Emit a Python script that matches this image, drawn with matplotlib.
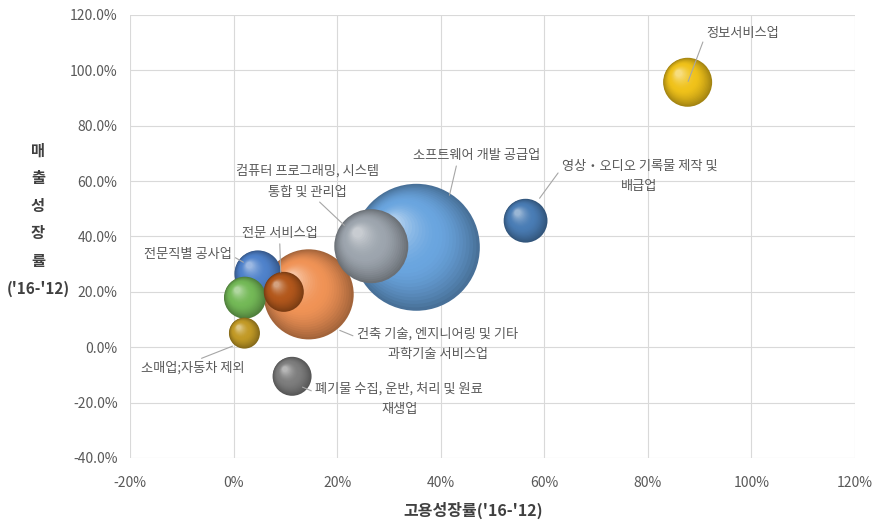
import matplotlib
matplotlib.use('Agg')
import matplotlib.pyplot as plt
import matplotlib.colors as mcolors
from matplotlib.transforms import offset_copy
from matplotlib.ticker import FuncFormatter, MultipleLocator
import numpy as np

plt.rcParams['font.family'] = ['Noto Sans CJK KR', 'DejaVu Sans']

# 업종별 고용성장률, 매출성장률 ('16-'12), 버블 크기
industries = ['정보서비스업', '영상・오디오 기록물 제작 및\n배급업', '소프트웨어 개발 공급업',
              '컴퓨터 프로그래밍, 시스템\n통합 및 관리업', '전문 서비스업', '전문직별 공사업',
              '소매업;자동차 제외', '건축 기술, 엔지니어링 및 기타\n과학기술 서비스업',
              '폐기물 수집, 운반, 처리 및 원료\n재생업', '기타']
emp_growth = [87.7, 56.4, 35.3, 26.6, 9.7, 4.7, 2.1, 14.5, 11.3, 2.2]
sales_growth = [95.7, 45.7, 36.1, 36.5, 20.0, 26.5, 5.1, 19.1, -10.5, 17.9]
bubble_size = [600, 480, 4030, 1370, 400, 550, 240, 2030, 380, 440]
colors = ['#F0C21A', '#4A7DB5', '#6AA5DF', '#9DA5AE', '#B3581C', '#4F82CB',
          '#C29A26', '#F09356', '#7E7E7E', '#74B957']

# 라벨 위치 (텍스트 중심, 지시선 끝점, 지시선 시작 위치)
label_pos = [(98.3, 113.4), (78.4, 61.7), (46.9, 69.3), (14.2, 59.9), (8.9, 41.2),
             (-8.9, 33.6), (-7.8, -7.6), (39.4, 1.1), (32.0, -18.8), None]
leader_end = [(87.8, 96.0), (59.1, 53.8), (41.7, 54.9), (21.4, 44.0), (9.1, 27.1),
              (1.9, 30.7), (-0.2, 0.4), (20.5, 6.1), (13.3, -14.4), None]
leader_rel = [(0, 0.5), (0, 0.75), (0.35, 0), (0.56, 0), (0.5, 0),
              (1, 0.4), (0.5, 1), (0, 0.7), (0, 0.7), None]

fig = plt.figure(figsize=(8.75, 5.28), dpi=100)
ax = fig.add_axes([0.1486, 0.1326, 0.8284, 0.839])

SCALE = (2 * 0.72) ** 2


def mix(c, other, t):
    a = np.array(mcolors.to_rgb(c))
    b = np.array(mcolors.to_rgb(other))
    return tuple(a * (1 - t) + b * t)


def sphere(x, y, size, color, n=24):
    s0 = size * SCALE
    r0 = np.sqrt(s0) / 2
    for i in range(n):
        t = i / n
        r = r0 * (1 - 0.9 * t)
        off = 0.38 * r0 * t
        if t < 0.5:
            col = mix(color, 'black', 0.32 * (1 - t / 0.5) ** 1.5)
        else:
            col = mix(color, 'white', 0.5 * ((t - 0.5) / 0.5) ** 1.6)
        tr = offset_copy(ax.transData, fig=fig, x=-off, y=off, units='points')
        ax.scatter([x], [y], s=(2 * r) ** 2, color=col, edgecolors='none',
                   transform=tr, zorder=3)


order = np.argsort(bubble_size)[::-1]
for i in order:
    sphere(emp_growth[i], sales_growth[i], bubble_size[i], colors[i])

for i, name in enumerate(industries):
    if label_pos[i] is None:
        continue
    ax.annotate(name, xy=leader_end[i], xytext=label_pos[i], ha='center', va='center',
                fontsize=9.5, color='#595959', linespacing=1.75, zorder=5,
                arrowprops=dict(arrowstyle='-', color='#A6A6A6', lw=0.8,
                                relpos=leader_rel[i], shrinkA=1, shrinkB=0))

ax.set_xlim(-20, 120)
ax.set_ylim(-40, 120)
ax.xaxis.set_major_locator(MultipleLocator(20))
ax.yaxis.set_major_locator(MultipleLocator(20))
ax.xaxis.set_major_formatter(FuncFormatter(lambda v, p: f'{v:.0f}%'))
ax.yaxis.set_major_formatter(FuncFormatter(lambda v, p: f'{v:.1f}%'))
ax.tick_params(length=0, labelsize=10, labelcolor='#595959')
ax.tick_params(axis='x', pad=13)
ax.tick_params(axis='y', pad=9)
ax.grid(True, color='#D9D9D9', lw=0.8, zorder=0)
ax.set_axisbelow(True)
for sp in ax.spines.values():
    sp.set_visible(False)

ax.set_xlabel("고용성장률('16-'12)", fontsize=11.5, fontweight='bold', color='#404040')
ax.xaxis.set_label_coords(0.473, -0.1)
fig.text(0.0434, 0.584, "매\n출\n성\n장\n률\n('16-'12)", ha='center', va='center',
         fontsize=11, fontweight='bold', color='#404040', linespacing=1.9)

fig.savefig('out.png', dpi=100, facecolor='white')
